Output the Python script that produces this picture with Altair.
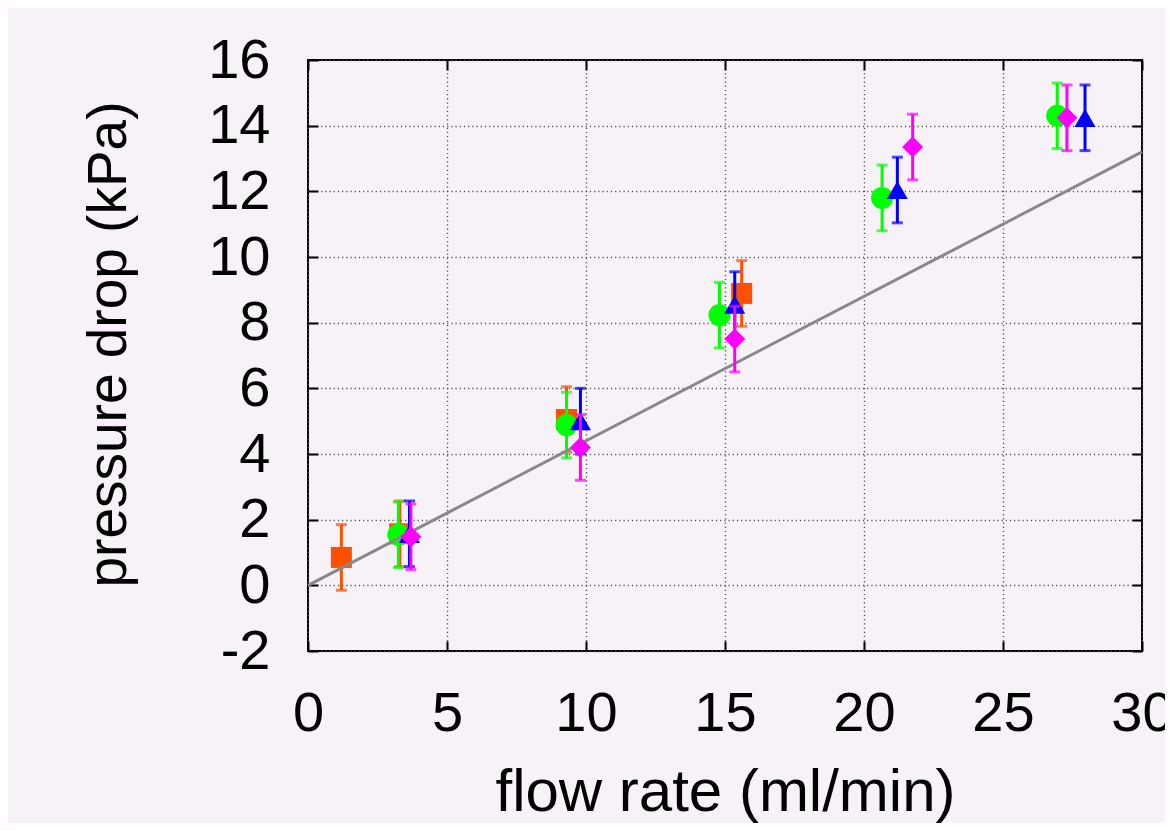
import altair as alt
import pandas as pd

# ---- data ----
orange_x = [1.2, 3.3, 9.3, 15.6]
orange_y = [0.85, 1.57, 5.05, 8.89]
orange_err = [1.0, 1.0, 1.0, 1.0]

green_x = [3.25, 9.3, 14.8, 20.65, 26.95]
green_y = [1.54, 4.88, 8.23, 11.8, 14.3]
green_err = [1.0, 1.0, 1.0, 1.0, 1.0]

blue_x = [3.65, 9.8, 15.35, 21.2, 27.95]
blue_y = [1.57, 5.0, 8.55, 12.04, 14.24]
blue_err = [1.0, 1.0, 1.0, 1.0, 1.0]

magenta_x = [3.7, 9.8, 15.35, 21.75, 27.3]
magenta_y = [1.48, 4.2, 7.5, 13.35, 14.24]
magenta_err = [1.0, 1.0, 1.0, 1.0, 1.0]

fit_x = [0, 30]
fit_y = [0, 13.2]

x_ticks = [0, 5, 10, 15, 20, 25, 30]
y_ticks = [-2, 0, 2, 4, 6, 8, 10, 12, 14, 16]

x_title = "flow rate (ml/min)"
y_title = "pressure drop (kPa)"

# ---- chart ----
W, H = 834, 591
FONT = "Liberation Sans"
xs = alt.Scale(domain=[0, 30], nice=False, zero=False)
ys = alt.Scale(domain=[-2, 16], nice=False, zero=False)

fit_df = pd.DataFrame({"x": fit_x, "y": fit_y})


def series_layers(xv, yv, ev, color, shape, size):
    df = pd.DataFrame({"x": xv, "y": yv, "e": ev})
    base = alt.Chart(df).transform_calculate(
        lo="datum.y - datum.e", hi="datum.y + datum.e"
    )
    bars = base.mark_rule(color=color, strokeWidth=3).encode(
        x=alt.X("x:Q", scale=xs, axis=None),
        y=alt.Y("lo:Q", scale=ys, axis=None),
        y2="hi:Q",
    )
    cap_lo = base.mark_tick(color=color, orient="horizontal", size=11, thickness=3).encode(
        x=alt.X("x:Q", scale=xs, axis=None),
        y=alt.Y("lo:Q", scale=ys, axis=None),
    )
    cap_hi = base.mark_tick(color=color, orient="horizontal", size=11, thickness=3).encode(
        x=alt.X("x:Q", scale=xs, axis=None),
        y=alt.Y("hi:Q", scale=ys, axis=None),
    )
    pts = base.mark_point(shape=shape, size=size, filled=True, color=color, opacity=1).encode(
        x=alt.X("x:Q", scale=xs, axis=None),
        y=alt.Y("y:Q", scale=ys, axis=None),
    )
    return [bars, cap_lo, cap_hi, pts]


# labeled axes with dotted grid
axes_main = alt.Chart(fit_df).mark_point(opacity=0).encode(
    x=alt.X(
        "x:Q", scale=xs,
        axis=alt.Axis(
            orient="bottom", values=x_ticks, ticks=False, domain=False,
            grid=True, gridColor="#555555", gridDash=[1.2, 3], gridWidth=1.4,
            labelFont=FONT, labelFontSize=56, labelColor="black", labelPadding=35,
            labelFlush=False, labelOverlap=False, labelExpr="toString(datum.value)",
            title=x_title, titleFont=FONT, titleFontSize=60, titleFontWeight="normal",
            titleColor="black", titleX=W / 2, titleY=159, titleAlign="center",
            titleBaseline="alphabetic",
        ),
    ),
    y=alt.Y(
        "y:Q", scale=ys,
        axis=alt.Axis(
            orient="left", values=y_ticks, ticks=False, domain=False,
            grid=True, gridColor="#555555", gridDash=[1.2, 3], gridWidth=1.4,
            labelFont=FONT, labelFontSize=56, labelColor="black", labelPadding=38,
            labelFlush=False, labelOverlap=False, labelExpr="toString(datum.value)",
            title=y_title, titleFont=FONT, titleFontSize=55, titleFontWeight="normal",
            titleColor="black", titleX=-200, titleY=284, titleAngle=270,
            titleAlign="center", titleBaseline="middle",
        ),
    ),
)

tick_style = dict(
    labels=False, domain=False, grid=False, ticks=True, tickSize=10,
    tickWidth=2, tickColor="black", offset=-10, title="",
)

axes_bl = alt.Chart(fit_df).mark_point(opacity=0).encode(
    x=alt.X("x:Q", scale=xs, axis=alt.Axis(orient="bottom", values=x_ticks, **tick_style)),
    y=alt.Y("y:Q", scale=ys, axis=alt.Axis(orient="left", values=y_ticks, **tick_style)),
)
axes_tr = alt.Chart(fit_df).mark_point(opacity=0).encode(
    x=alt.X("x:Q", scale=xs, axis=alt.Axis(orient="top", values=x_ticks, **tick_style)),
    y=alt.Y("y:Q", scale=ys, axis=alt.Axis(orient="right", values=y_ticks, **tick_style)),
)

fit_line = alt.Chart(fit_df).mark_line(color="#888888", strokeWidth=3).encode(
    x=alt.X("x:Q", scale=xs, axis=None),
    y=alt.Y("y:Q", scale=ys, axis=None),
)

layers = [axes_main, axes_bl, axes_tr]
layers += series_layers(orange_x, orange_y, orange_err, "#ff5000", "square", 441)
layers += series_layers(green_x, green_y, green_err, "#00ff00", "circle", 484)
layers.append(fit_line)
layers += series_layers(blue_x, blue_y, blue_err, "#0000ff", "triangle-up", 441)
layers += series_layers(magenta_x, magenta_y, magenta_err, "#ff00ff", "diamond", 441)

chart = alt.layer(*layers).resolve_axis(
    x="independent", y="independent"
).properties(
    width=W, height=H,
    autosize=alt.AutoSizeParams(type="none"),
    padding={"left": 300, "top": 52, "right": 23, "bottom": 172},
    background="#f7f1f8",
).configure_view(stroke="black", strokeWidth=2)

chart.save("out.html", embed_options={"renderer": "svg", "actions": False})
